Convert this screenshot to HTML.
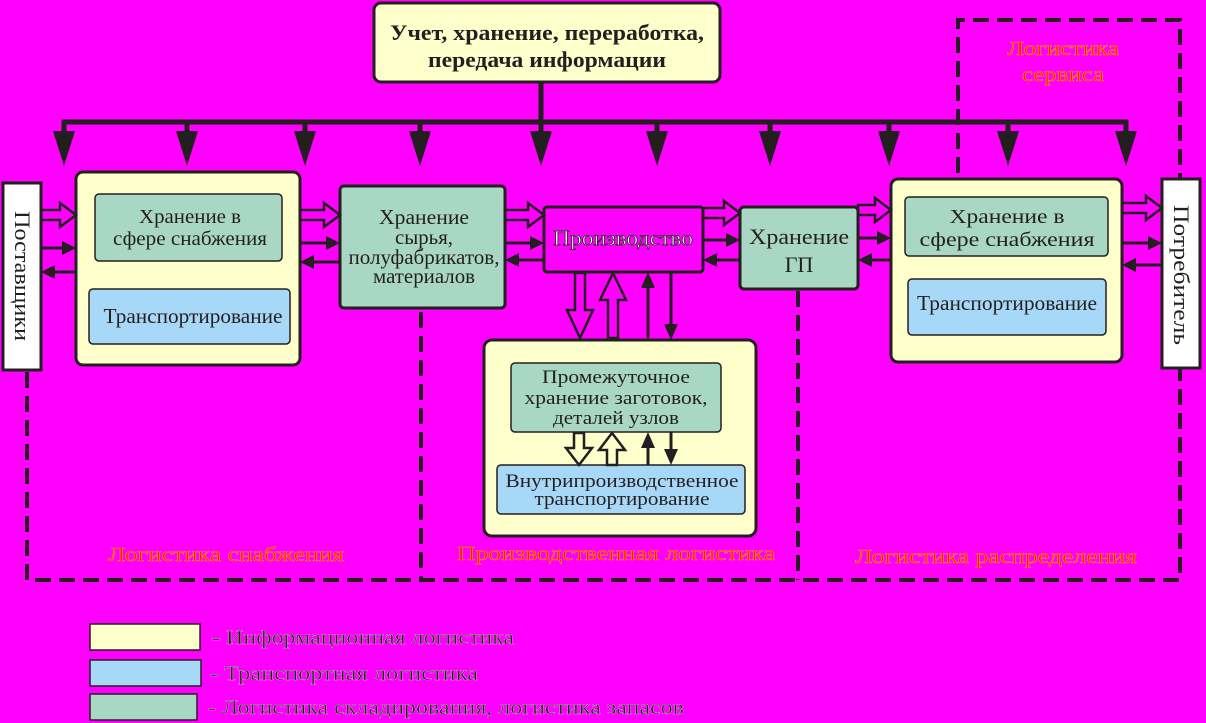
<!DOCTYPE html>
<html><head><meta charset="utf-8"><style>
html,body{margin:0;padding:0;background:#ff00ff;}
svg{display:block;font-family:"Liberation Serif",serif;}
</style></head><body>
<svg width="1206" height="723" viewBox="0 0 1206 723" xmlns="http://www.w3.org/2000/svg">
<rect width="1206" height="723" fill="#ff00ff"/>
<g stroke="#231f20" fill="none" stroke-width="4" stroke-dasharray="16,8">
<path d="M27 372 L27 580 L1180 580 L1180 20 L958 20 L958 180"/>
<path d="M421 312 L421 580"/>
<path d="M798 291 L798 580"/>
</g>
<g text-anchor="middle" fill="#231f20" lengthAdjust="spacingAndGlyphs">
<rect x="374" y="3" width="346" height="79" rx="7" fill="#ffffcc" stroke="#231f20" stroke-width="3"/>
<text x="547" y="40" font-size="22" font-weight="bold" textLength="314" lengthAdjust="spacingAndGlyphs">Учет, хранение, переработка,</text>
<text x="547" y="67" font-size="22" font-weight="bold" textLength="238" lengthAdjust="spacingAndGlyphs">передача информации</text>
</g>
<g stroke="#231f20" stroke-width="5" fill="none">
<path d="M541 82 L541 122 M62 122 L1128 122"/>
<path d="M64 120 L64 132 M187 122 L187 132 M305 122 L305 132 M420 122 L420 132 M541 122 L541 132 M657 122 L657 132 M770 122 L770 132 M889 122 L889 132 M1008 122 L1008 132 M1126 120 L1126 132"/>
</g>
<g fill="#231f20">
<polygon points="53,131 64,166 75,131"/><polygon points="176,131 187,166 198,131"/><polygon points="294,131 305,166 316,131"/><polygon points="409,131 420,166 431,131"/><polygon points="530,131 541,166 552,131"/><polygon points="646,131 657,166 668,131"/><polygon points="759,131 770,166 781,131"/><polygon points="878,131 889,166 900,131"/><polygon points="997,131 1008,166 1019,131"/><polygon points="1115,131 1126,166 1137,131"/>
</g>
<rect x="3" y="183" width="38" height="187" fill="#fff" stroke="#231f20" stroke-width="3"/>
<text transform="translate(15,276) rotate(90)" font-size="22" text-anchor="middle" fill="#231f20" textLength="130" lengthAdjust="spacingAndGlyphs">Поставщики</text>
<rect x="1162" y="179" width="38" height="189" fill="#fff" stroke="#231f20" stroke-width="3"/>
<text transform="translate(1174,275) rotate(90)" font-size="22" text-anchor="middle" fill="#231f20" textLength="140" lengthAdjust="spacingAndGlyphs">Потребитель</text>

<g text-anchor="middle" fill="#231f20">
<rect x="76" y="172" width="224" height="193" rx="7" fill="#ffffcc" stroke="#231f20" stroke-width="3"/>
<rect x="95" y="194" width="187" height="67" rx="4" fill="#a8d8c4" stroke="#231f20" stroke-width="1.5"/>
<text x="190" y="223" font-size="20" textLength="102" lengthAdjust="spacingAndGlyphs">Хранение в</text>
<text x="190" y="245" font-size="20" textLength="154" lengthAdjust="spacingAndGlyphs">сфере снабжения</text>
<rect x="89" y="289" width="201" height="55" rx="4" fill="#a8d8f8" stroke="#231f20" stroke-width="1.5"/>
<text x="193" y="323" font-size="21" textLength="179" lengthAdjust="spacingAndGlyphs">Транспортирование</text>

<rect x="340" y="186" width="165" height="122" rx="4" fill="#a8d8c4" stroke="#231f20" stroke-width="3"/>
<text x="424" y="224" font-size="21" textLength="90" lengthAdjust="spacingAndGlyphs">Хранение</text>
<text x="424" y="244" font-size="21" textLength="58" lengthAdjust="spacingAndGlyphs">сырья,</text>
<text x="424" y="264" font-size="21" textLength="151" lengthAdjust="spacingAndGlyphs">полуфабрикатов,</text>
<text x="424" y="283" font-size="21" textLength="102" lengthAdjust="spacingAndGlyphs">материалов</text>

<rect x="544" y="207" width="159" height="65" rx="3" fill="#ff00ff" stroke="#231f20" stroke-width="3"/>
<text x="623" y="245" font-size="21" fill="#fff" stroke="#231f20" stroke-width="0.7" textLength="140" lengthAdjust="spacingAndGlyphs">Производство</text>

<rect x="740" y="207" width="118" height="82" rx="4" fill="#a8d8c4" stroke="#231f20" stroke-width="3"/>
<text x="799" y="244" font-size="22" textLength="100" lengthAdjust="spacingAndGlyphs">Хранение</text>
<text x="799" y="272" font-size="22">ГП</text>

<rect x="891" y="179" width="231" height="183" rx="7" fill="#ffffcc" stroke="#231f20" stroke-width="3"/>
<rect x="905" y="197" width="203" height="59" rx="4" fill="#a8d8c4" stroke="#231f20" stroke-width="1.5"/>
<text x="1007" y="223" font-size="20" textLength="115" lengthAdjust="spacingAndGlyphs">Хранение в</text>
<text x="1007" y="246" font-size="20" textLength="175" lengthAdjust="spacingAndGlyphs">сфере снабжения</text>
<rect x="908" y="279" width="198" height="56" rx="4" fill="#a8d8f8" stroke="#231f20" stroke-width="1.5"/>
<text x="1007" y="310" font-size="21" textLength="180" lengthAdjust="spacingAndGlyphs">Транспортирование</text>

<rect x="484" y="340" width="272" height="196" rx="8" fill="#ffffcc" stroke="#231f20" stroke-width="3"/>
<rect x="511" y="363" width="210" height="69" rx="4" fill="#a8d8c4" stroke="#231f20" stroke-width="1.5"/>
<text x="616" y="383" font-size="19" textLength="148" lengthAdjust="spacingAndGlyphs">Промежуточное</text>
<text x="616" y="404" font-size="19" textLength="183" lengthAdjust="spacingAndGlyphs">хранение заготовок,</text>
<text x="616" y="424" font-size="19" textLength="126" lengthAdjust="spacingAndGlyphs">деталей узлов</text>
<rect x="497" y="465" width="248" height="49" rx="4" fill="#a8d8f8" stroke="#231f20" stroke-width="1.5"/>
<text x="622" y="487" font-size="19" textLength="233" lengthAdjust="spacingAndGlyphs">Внутрипроизводственное</text>
<text x="622" y="505" font-size="19" textLength="175" lengthAdjust="spacingAndGlyphs">транспортирование</text>
</g>

<g fill="none" stroke="#231f20" stroke-width="2.5">
<path d="M41 210 L60 210 L60 203 L76 215 L60 227 L60 220 L41 220Z"/>
<path d="M300 210 L324 210 L324 203 L340 215 L324 227 L324 220 L300 220Z"/>
<path d="M505 210 L528 210 L528 203 L544 215 L528 227 L528 220 L505 220Z"/>
<path d="M703 208 L724 208 L724 201 L740 213 L724 225 L724 218 L703 218Z"/>
<path d="M858 205 L875 205 L875 198 L891 210 L875 222 L875 215 L858 215Z"/>
<path d="M1122 203 L1146 203 L1146 196 L1162 208 L1146 220 L1146 213 L1122 213Z"/>
<path d="M575 273 L575 310 L567 310 L580 338 L593 310 L585 310 L585 273Z"/>
<path d="M608 338 L608 300 L600 300 L613 273 L626 300 L618 300 L618 338Z"/>
<path d="M574 433 L574 448 L566 448 L579 465 L592 448 L584 448 L584 433Z"/>
<path d="M607 465 L607 450 L599 450 L612 433 L625 450 L617 450 L617 465Z"/>
</g>
<g stroke="#231f20" stroke-width="3">
<path d="M41 248 L64 248 M300 243 L328 243 M505 243 L532 243 M703 240 L728 240 M858 238 L879 238 M1122 243 L1150 243"/>
<path d="M53 272 L76 272 M312 262 L340 262 M517 260 L544 260 M715 260 L740 260 M870 260 L891 260 M1134 265 L1162 265"/>
<path d="M648 338 L648 285 M671 272 L671 326 M648 465 L648 445 M671 432 L671 452"/>
</g>
<g fill="#231f20">
<polygon points="62,241 76,248 62,255"/><polygon points="326,236 340,243 326,250"/><polygon points="530,236 544,243 530,250"/><polygon points="726,233 740,240 726,247"/><polygon points="877,231 891,238 877,245"/><polygon points="1148,236 1162,243 1148,250"/>
<polygon points="55,265 41,272 55,279"/><polygon points="314,255 300,262 314,269"/><polygon points="519,253 505,260 519,267"/><polygon points="717,253 703,260 717,267"/><polygon points="872,253 858,260 872,267"/><polygon points="1136,258 1122,265 1136,272"/>
<polygon points="641,288 648,272 655,288"/><polygon points="664,324 671,340 678,324"/>
<polygon points="641,448 648,432 655,448"/><polygon points="664,449 671,465 678,449"/>
</g>
<g font-size="20" fill="#ff1a00" stroke="#ffd000" stroke-width="0.35" text-anchor="middle">
<text x="226" y="561" textLength="236" lengthAdjust="spacingAndGlyphs">Логистика снабжения</text>
<text x="616" y="560" textLength="318" lengthAdjust="spacingAndGlyphs">Производственная логистика</text>
<text x="996" y="563" textLength="282" lengthAdjust="spacingAndGlyphs">Логистика распределения</text>
<text x="1063" y="55" textLength="112" lengthAdjust="spacingAndGlyphs">Логистика</text>
<text x="1063" y="81" textLength="82" lengthAdjust="spacingAndGlyphs">сервиса</text>
</g>
<rect x="90" y="624" width="110" height="26" fill="#ffffcc" stroke="#231f20" stroke-width="1.5"/>
<rect x="90" y="660" width="111" height="26" fill="#a8d8f8" stroke="#231f20" stroke-width="1.5"/>
<rect x="90" y="694" width="107" height="26" fill="#a8d8c4" stroke="#231f20" stroke-width="1.5"/>
<g font-size="20" fill="#231f20" stroke="#fff" stroke-width="0.2">
<text x="212" y="644" textLength="302" lengthAdjust="spacingAndGlyphs">- Информационная логистика</text>
<text x="210" y="680" textLength="268" lengthAdjust="spacingAndGlyphs">- Транспортная  логистика</text>
<text x="208" y="714" textLength="476" lengthAdjust="spacingAndGlyphs">- Логистика складирования, логистика запасов</text>
</g>
</svg>
</body></html>
